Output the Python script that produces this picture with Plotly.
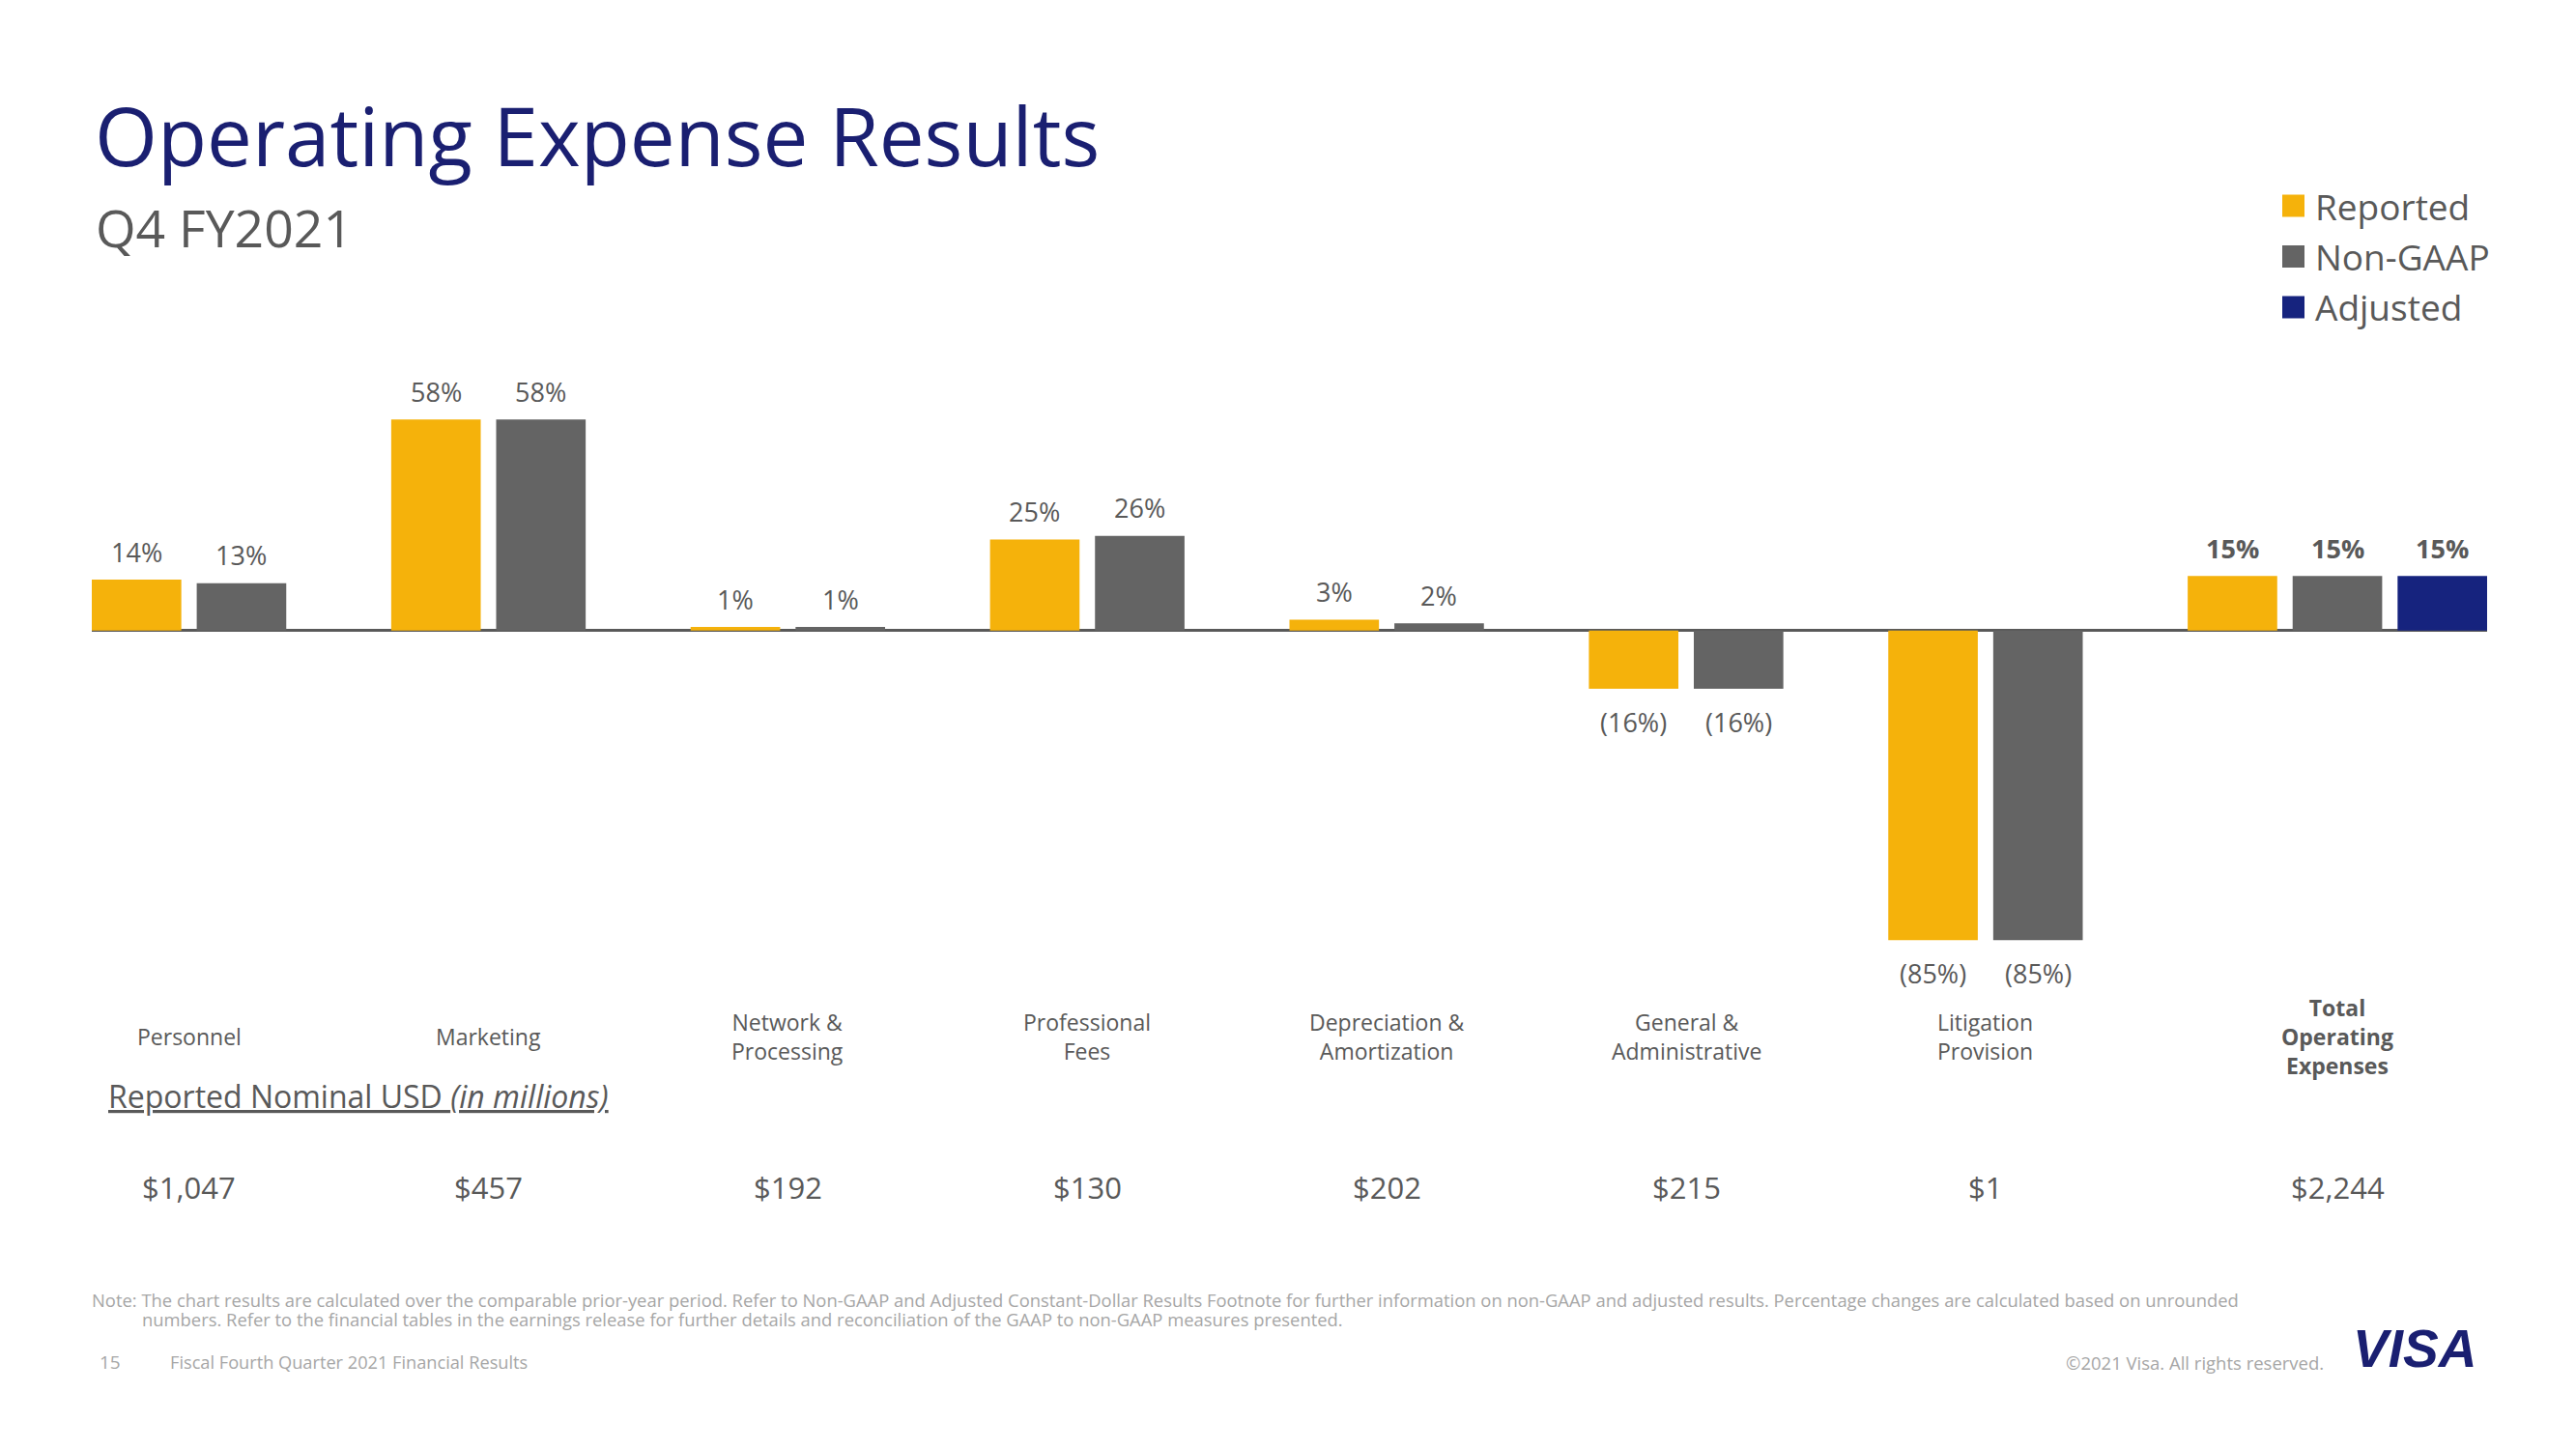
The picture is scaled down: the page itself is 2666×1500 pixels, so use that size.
import plotly.graph_objects as go

# ---------------- data ----------------
categories = [
    "Personnel", "Marketing", "Network & Processing", "Professional Fees",
    "Depreciation & Amortization", "General & Administrative",
    "Litigation Provision", "Total Operating Expenses",
]
category_labels = [
    "Personnel", "Marketing", "Network &<br>Processing", "Professional<br>Fees",
    "Depreciation &<br>Amortization", "General &<br>Administrative",
    "Litigation<br>Provision", "Total<br>Operating<br>Expenses",
]
reported = [14, 58, 1, 25, 3, -16, -85, 15]
non_gaap = [13, 58, 1, 26, 2, -16, -85, 15]
adjusted = [None, None, None, None, None, None, None, 15]
nominal_usd = [1047, 457, 192, 130, 202, 215, 1, 2244]
series_names = ["Reported", "Non-GAAP", "Adjusted"]

# ---------------- style ----------------
W, H = 2666, 1500
PLOT_L, PLOT_R, PLOT_T, PLOT_B = 95, 2574, 389, 992
Y_RANGE = [-90, 70]
BAR_W = 0.299
PITCH = 0.3505
COLORS = ["#F5B20B", "#646464", "#16237E"]
GRAY = "#595959"
LIGHT = "#A6A6A6"
NAVY = "#1A1F71"
FONT = "Open Sans"


def fx(px):
    return px / W


def fy(py):
    return 1 - py / H


def pct(v):
    return f"{v}%" if v >= 0 else f"({abs(v)}%)"


fig = go.Figure()
all_series = [reported, non_gaap, adjusted]
for k, (name, vals) in enumerate(zip(series_names, all_series)):
    fig.add_trace(go.Bar(
        x=categories, y=vals, name=name,
        offset=-0.5 + k * PITCH, width=BAR_W,
        marker=dict(color=COLORS[k], line=dict(width=0)),
        showlegend=False,
    ))

annotations = []
n_cat = len(categories)
# value labels on bars
for k, vals in enumerate(all_series):
    for i, v in enumerate(vals):
        if v is None:
            continue
        total = i == n_cat - 1
        annotations.append(dict(
            x=i - 0.5 + k * PITCH + BAR_W / 2, y=v, xref="x", yref="y",
            text=pct(v), showarrow=False, yanchor="middle",
            yshift=29 if v >= 0 else -34,
            font=dict(family=FONT, size=27, color=GRAY,
                      weight="bold" if total else "normal"),
        ))

# category labels and nominal values
for i, (lab, usd) in enumerate(zip(category_labels, nominal_usd)):
    nbars = sum(1 for s in all_series if s[i] is not None)
    xc = i - 0.5 + ((nbars - 1) * PITCH + BAR_W) / 2
    total = i == n_cat - 1
    annotations.append(dict(
        x=xc, y=fy(1073), xref="x", yref="paper", text=lab, showarrow=False,
        yanchor="middle", align="center",
        font=dict(family=FONT, size=23, color=GRAY,
                  weight="bold" if total else "normal"),
    ))
    annotations.append(dict(
        x=xc, y=fy(1229), xref="x", yref="paper", text=f"${usd:,}",
        showarrow=False, yanchor="middle",
        font=dict(family=FONT, size=31, color=GRAY),
    ))

# titles and texts
texts = [
    dict(x=fx(96), y=fy(139), text="Operating Expense Results",
         font=dict(family=FONT, size=83.5, color=NAVY)),
    dict(x=fx(97), y=fy(235), text="Q4 FY2021",
         font=dict(family=FONT, size=53.5, color=GRAY)),
    dict(x=fx(110), y=fy(1134),
         text="<u>Reported Nominal USD <i>(in millions)</i></u>",
         font=dict(family=FONT, size=32, color=GRAY)),
    dict(x=fx(93), y=fy(1345),
         text="Note: The chart results are calculated over the comparable prior-year period. "
              "Refer to Non-GAAP and Adjusted Constant-Dollar Results Footnote for further "
              "information on non-GAAP and adjusted results. Percentage changes are calculated "
              "based on unrounded",
         font=dict(family=FONT, size=18.4, color=LIGHT)),
    dict(x=fx(145), y=fy(1365),
         text="numbers. Refer to the financial tables in the earnings release for further details "
              "and reconciliation of the GAAP to non-GAAP measures presented.",
         font=dict(family=FONT, size=18.4, color=LIGHT)),
    dict(x=fx(101), y=fy(1410), text="15",
         font=dict(family=FONT, size=19, color=LIGHT)),
    dict(x=fx(174), y=fy(1410), text="Fiscal Fourth Quarter 2021 Financial Results",
         font=dict(family=FONT, size=18.2, color=LIGHT)),
    dict(x=fx(2407), y=fy(1410), text="©2021 Visa. All rights reserved.",
         xanchor="right", font=dict(family=FONT, size=18.5, color=LIGHT)),
    dict(x=fx(2433), y=fy(1396), text="<b><i>VISA</i></b>",
         font=dict(family="Liberation Sans", size=55, color=NAVY)),
]
for a in texts:
    a.setdefault("xanchor", "left")
    a.update(xref="paper", yref="paper", yanchor="middle", showarrow=False)
annotations += texts

# legend (shapes + labels)
shapes = []
for k, name in enumerate(series_names):
    cy = 213 + k * 52.5
    shapes.append(dict(type="rect", xref="paper", yref="paper",
                       x0=fx(2362), x1=fx(2385), y0=fy(cy - 11.5), y1=fy(cy + 11.5),
                       fillcolor=COLORS[k], line=dict(width=0)))
    annotations.append(dict(x=fx(2394), y=fy(cy), xref="paper", yref="paper",
                            text=name, showarrow=False, xanchor="left",
                            yanchor="middle",
                            font=dict(family=FONT, size=37, color=GRAY)))

fig.update_layout(
    width=W, height=H,
    margin=dict(l=0, r=0, t=0, b=0),
    paper_bgcolor="white", plot_bgcolor="white",
    barmode="overlay",
    showlegend=False,
    xaxis=dict(domain=[fx(PLOT_L), fx(PLOT_R)], range=[-0.5, n_cat - 0.5],
               showticklabels=False, showgrid=False, zeroline=False,
               showline=False, ticks=""),
    yaxis=dict(domain=[fy(PLOT_B), fy(PLOT_T)], range=Y_RANGE,
               showticklabels=False, showgrid=False, zeroline=True,
               zerolinecolor=GRAY, zerolinewidth=3, showline=False, ticks=""),
    annotations=annotations,
    shapes=shapes,
)

fig.write_html(
    "out.html",
    config={"displayModeBar": False},
    post_script="document.body.style.margin='0';document.body.style.overflow='hidden';",
)
